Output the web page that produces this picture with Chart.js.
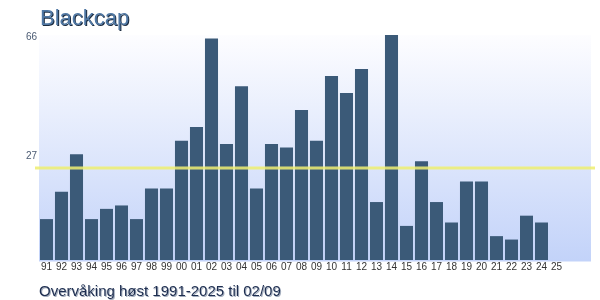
<!DOCTYPE html>
<html>
<head>
<meta charset="utf-8">
<script src="https://cdn.jsdelivr.net/npm/chart.js@4"></script>
<style>
  body { margin: 0; background: #fff; }
</style>
</head>
<body>
<canvas id="myChart" width="600" height="300"></canvas>
<script>
let years = ['91','92','93','94','95','96','97','98','99','00','01','02','03','04','05','06','07','08',
             '09','10','11','12','13','14','15','16','17','18','19','20','21','22','23','24','25'];
let counts = [12, 20, 31, 12, 15, 16, 12, 21, 21, 35, 39, 65, 34, 51, 21, 34, 33, 44,
              35, 54, 49, 56, 17, 66, 10, 29, 17, 11, 23, 23, 7, 6, 13, 11, null];
let avgValue = 27;
let maxValue = 66;
let titleText = 'Blackcap';
let footText = 'Overvåking høst 1991-2025 til 02/09';

// background gradient, average line, labels and titles
let decor = {
    id: 'decor',
    beforeDatasetsDraw(chart) {
        let ctx = chart.ctx;
        let area = chart.chartArea;
        let g = ctx.createLinearGradient(0, area.top, 0, area.bottom);
        g.addColorStop(0, '#fdfdff');
        g.addColorStop(1, '#c3d3f9');
        ctx.save();
        ctx.fillStyle = g;
        ctx.fillRect(area.left, area.top, 591 - area.left, area.bottom - area.top + 1.5);
        ctx.restore();
    },
    afterDatasetsDraw(chart) {
        let ctx = chart.ctx;
        let y = chart.scales.y;
        let ya = y.getPixelForValue(avgValue);
        ctx.save();
        ctx.strokeStyle = 'rgba(240,240,120,0.45)';
        ctx.lineWidth = 4;
        ctx.beginPath();
        ctx.moveTo(35, ya);
        ctx.lineTo(595, ya);
        ctx.stroke();
        ctx.strokeStyle = '#eeee70';
        ctx.lineWidth = 1.5;
        ctx.beginPath();
        ctx.moveTo(35, ya);
        ctx.lineTo(595, ya);
        ctx.stroke();

        ctx.font = '10px "Liberation Sans", Arial, sans-serif';
        ctx.fillStyle = '#4a5a72';
        ctx.textAlign = 'right';
        ctx.textBaseline = 'middle';
        ctx.fillText(String(maxValue), 37, y.getPixelForValue(maxValue) + 2);
        ctx.fillText(String(avgValue), 37, ya - 11.5);

        ctx.textAlign = 'left';
        ctx.textBaseline = 'alphabetic';
        ctx.font = '22px "Liberation Sans", Arial, sans-serif';
        ctx.shadowColor = '#1c2c40';
        ctx.shadowOffsetX = 1;
        ctx.shadowOffsetY = 1;
        ctx.fillStyle = '#5078a4';
        ctx.fillText(titleText, 40, 25);

        ctx.font = '15px "Liberation Sans", Arial, sans-serif';
        ctx.shadowColor = '#a4aebe';
        ctx.fillStyle = '#1e2e50';
        ctx.fillText(footText, 39, 296);
        ctx.restore();
    }
};

let myChart = document.getElementById('myChart').getContext('2d');
let chart = new Chart(myChart, {
    type: 'bar',
    data: {
        labels: years,
        datasets: [{
            data: counts,
            backgroundColor: '#3b5a78',
            borderWidth: 0,
            barPercentage: 0.87,
            categoryPercentage: 1
        }]
    },
    options: {
        responsive: false,
        animation: false,
        layout: { padding: { left: 39, right: 36, top: 35, bottom: 26 } },
        plugins: {
            legend: { display: false },
            tooltip: { enabled: false }
        },
        scales: {
            x: {
                grid: { display: false, drawTicks: false },
                border: { display: false },
                ticks: {
                    color: '#333',
                    font: { size: 10, family: '"Liberation Sans", Arial, sans-serif' },
                    padding: 1,
                    maxRotation: 0,
                    autoSkip: false
                }
            },
            y: {
                display: false,
                min: 0,
                max: maxValue
            }
        }
    },
    plugins: [decor]
});
</script>
</body>
</html>
